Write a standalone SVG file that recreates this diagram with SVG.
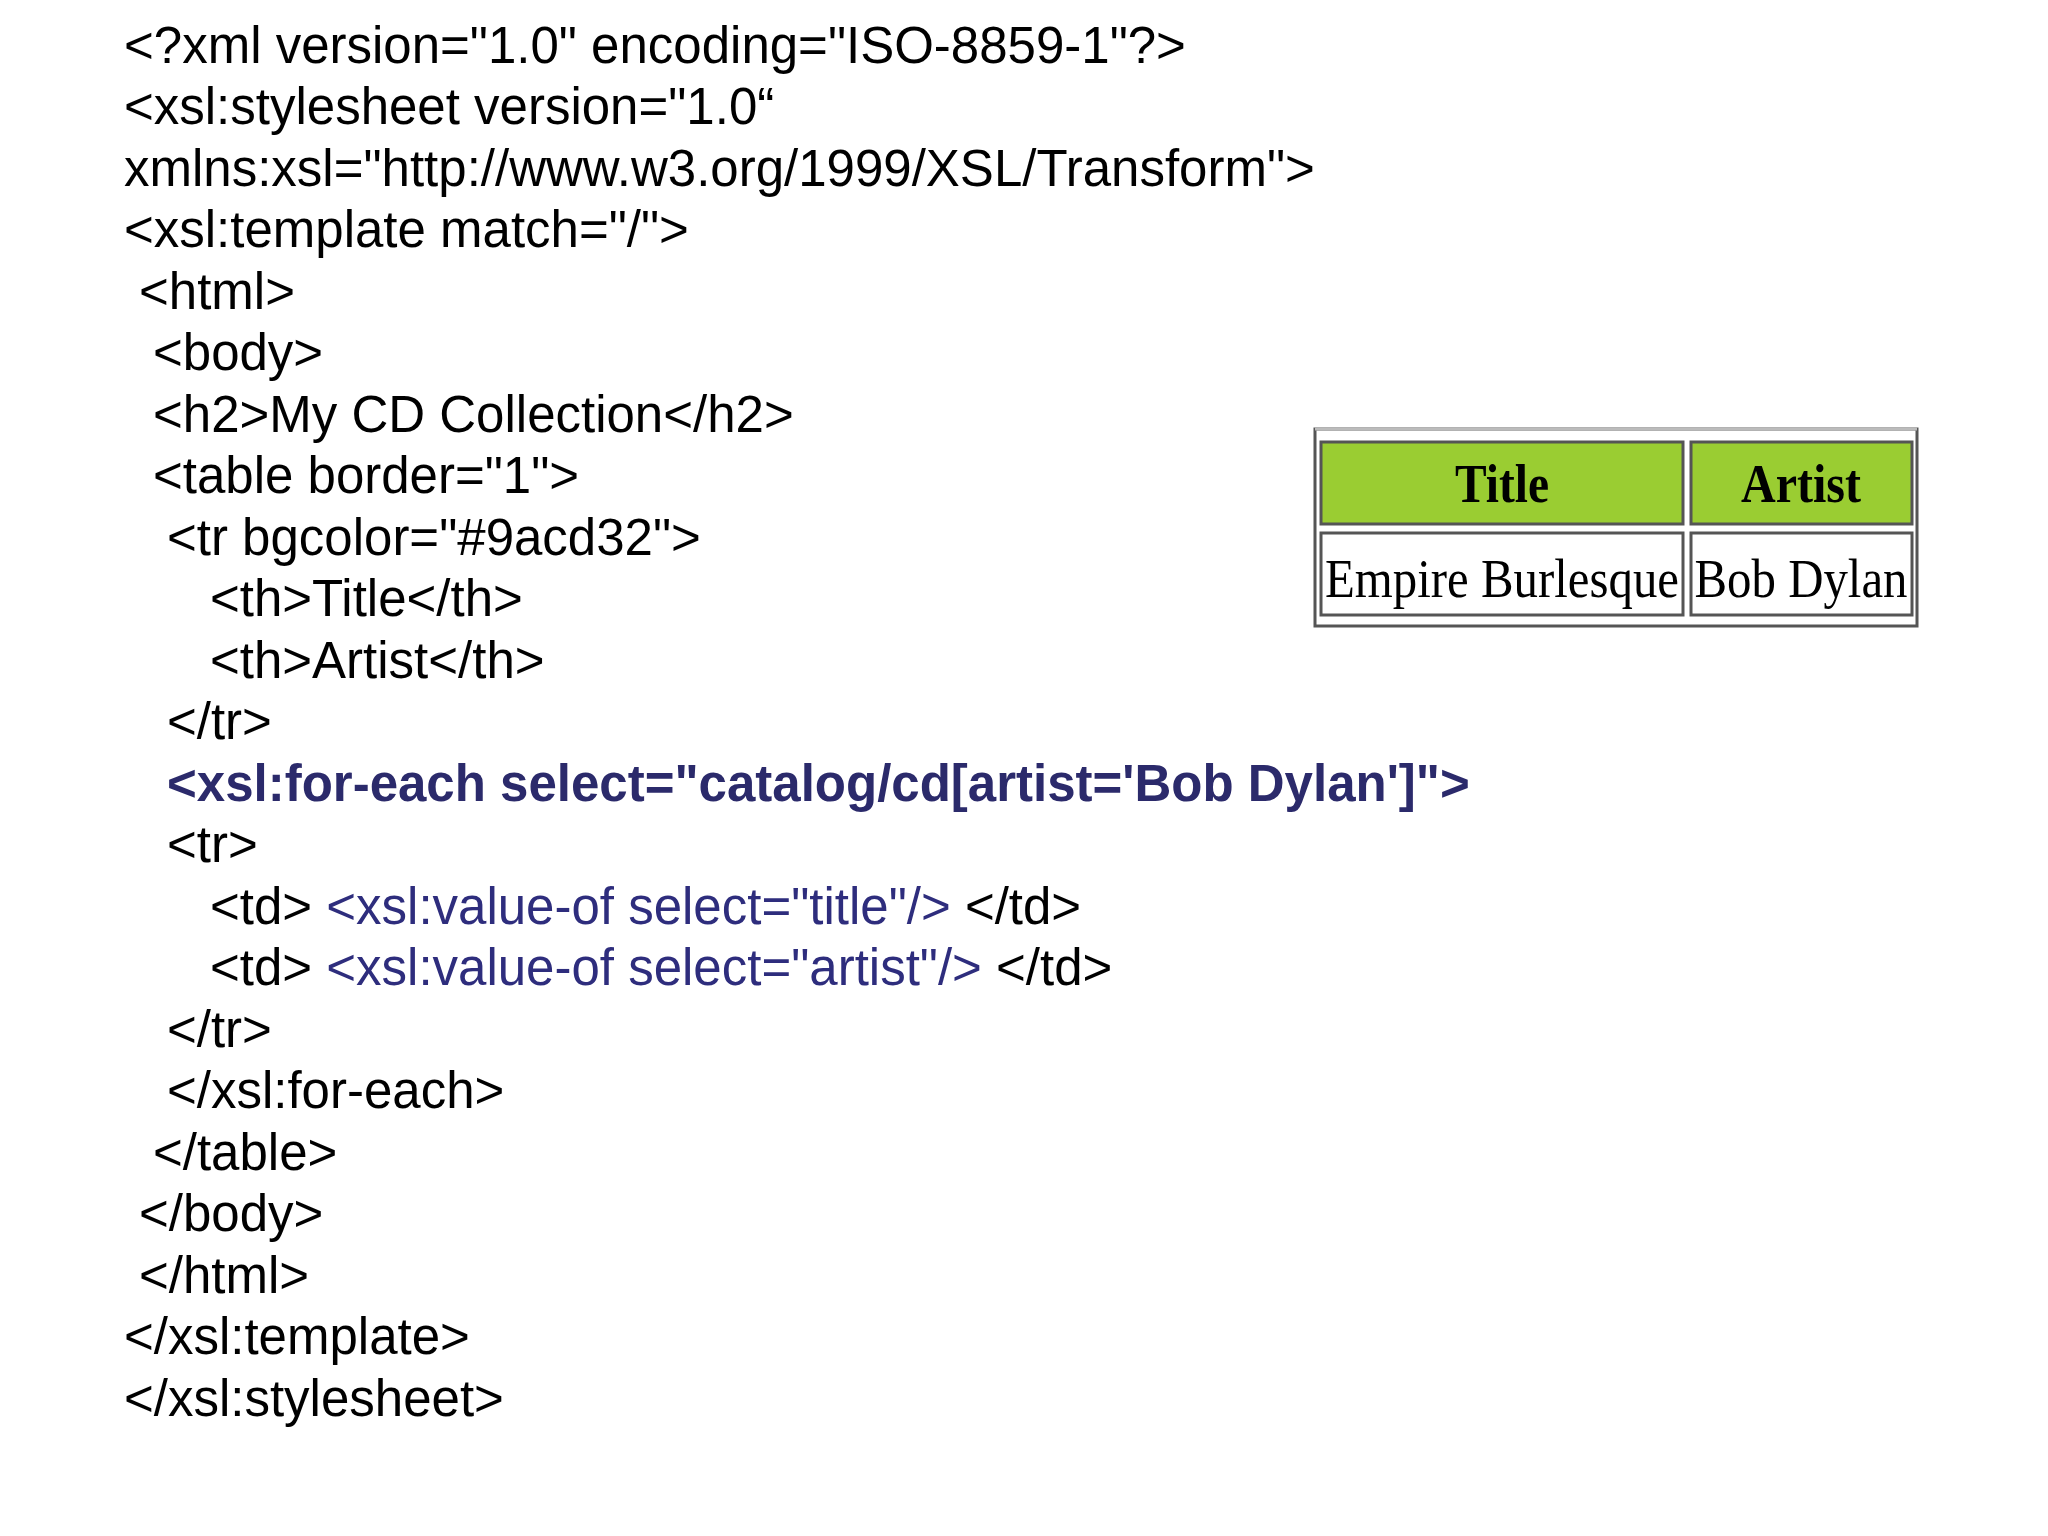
<svg xmlns="http://www.w3.org/2000/svg" width="2048" height="1536" viewBox="0 0 2048 1536">
<style>
.c{font-family:"Liberation Sans",Arial,sans-serif;font-size:51px;fill:#000}
.b{font-weight:bold;fill:#2b2a6b}
.v{fill:#2e2d7d}
.t{font-family:"Liberation Serif","Times New Roman",serif;font-size:54px;fill:#000}
</style>
<rect width="2048" height="1536" fill="#fff"/>
<g id="code" class="c">
<text x="124" y="63">&lt;?xml version="1.0" encoding="ISO-8859-1"?&gt;</text>
<text x="124" y="124">&lt;xsl:stylesheet version="1.0“</text>
<text x="124" y="186">xmlns:xsl="http://www.w3.org/1999/XSL/Transform"&gt;</text>
<text x="124" y="247">&lt;xsl:template match="/"&gt;</text>
<text x="139" y="309">&lt;html&gt;</text>
<text x="153" y="370">&lt;body&gt;</text>
<text x="153" y="432">&lt;h2&gt;My CD Collection&lt;/h2&gt;</text>
<text x="153" y="493">&lt;table border="1"&gt;</text>
<text x="167" y="555">&lt;tr bgcolor="#9acd32"&gt;</text>
<text x="210" y="616">&lt;th&gt;Title&lt;/th&gt;</text>
<text x="210" y="678">&lt;th&gt;Artist&lt;/th&gt;</text>
<text x="167" y="739">&lt;/tr&gt;</text>
<text x="167" y="801" class="b">&lt;xsl:for-each select="catalog/cd[artist='Bob Dylan']"&gt;</text>
<text x="167" y="862">&lt;tr&gt;</text>
<text x="210" y="924">&lt;td&gt; <tspan class="v">&lt;xsl:value-of select="title"/&gt;</tspan> &lt;/td&gt;</text>
<text x="210" y="985">&lt;td&gt; <tspan class="v">&lt;xsl:value-of select="artist"/&gt;</tspan> &lt;/td&gt;</text>
<text x="167" y="1047">&lt;/tr&gt;</text>
<text x="167" y="1108">&lt;/xsl:for-each&gt;</text>
<text x="153" y="1170">&lt;/table&gt;</text>
<text x="139" y="1231">&lt;/body&gt;</text>
<text x="139" y="1293">&lt;/html&gt;</text>
<text x="124" y="1354">&lt;/xsl:template&gt;</text>
<text x="124" y="1416">&lt;/xsl:stylesheet&gt;</text>
</g>
<g id="table">
<rect x="1315" y="429" width="602" height="197" fill="#fff" stroke="#555" stroke-width="3"/>
<path d="M1315 429H1917" stroke="#bbb" stroke-width="3"/>
<rect x="1321" y="442" width="362" height="82" fill="#9acd32" stroke="#555" stroke-width="3"/>
<rect x="1691" y="442" width="221" height="82" fill="#9acd32" stroke="#555" stroke-width="3"/>
<rect x="1321" y="533" width="362" height="82" fill="#fff" stroke="#555" stroke-width="3"/>
<rect x="1691" y="533" width="221" height="82" fill="#fff" stroke="#555" stroke-width="3"/>
<text class="t" x="1502" y="502" text-anchor="middle" font-weight="bold" textLength="94" lengthAdjust="spacingAndGlyphs">Title</text>
<text class="t" x="1801" y="502" text-anchor="middle" font-weight="bold" textLength="120" lengthAdjust="spacingAndGlyphs">Artist</text>
<text class="t" x="1502" y="597" text-anchor="middle" textLength="354" lengthAdjust="spacingAndGlyphs">Empire Burlesque</text>
<text class="t" x="1801" y="597" text-anchor="middle" textLength="213" lengthAdjust="spacingAndGlyphs">Bob Dylan</text>
</g>
</svg>
